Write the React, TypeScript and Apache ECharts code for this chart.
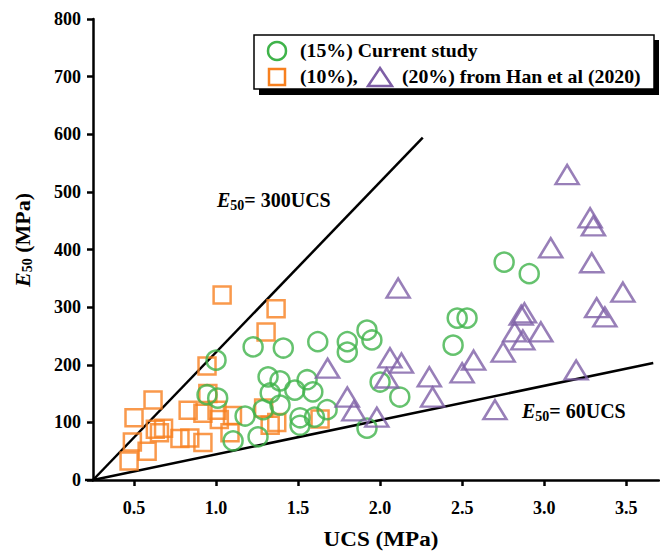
import React, { useEffect, useRef } from "react";
import * as echarts from "echarts";

// 10% cement content – Han et al (2020)
const squares10: number[][] = [
  [1.037, 321], [1.366, 297], [1.305, 257], [0.945, 198], [0.95, 150],
  [0.616, 139], [0.5, 108], [0.49, 66], [0.47, 33], [0.58, 50],
  [0.63, 88], [0.68, 90], [0.655, 82], [0.78, 72], [0.84, 73],
  [0.83, 121], [0.92, 116], [1.006, 121], [0.92, 65], [1.1, 112],
  [1.02, 105], [1.29, 125], [1.33, 95], [1.37, 100], [1.634, 106],
  [1.085, 82],
];

// 15% – current study
const circles15: number[][] = [
  [2.756, 378], [2.909, 358], [2.47, 281], [2.53, 281], [2.445, 234],
  [1.92, 260], [1.95, 243], [2.0, 170], [2.12, 144], [1.92, 90],
  [1.8, 240], [1.8, 222], [1.62, 240], [1.226, 231], [1.41, 229],
  [1.0, 208], [0.945, 148], [1.01, 142], [1.317, 179], [1.39, 172],
  [1.555, 174], [1.33, 151], [1.48, 156], [1.59, 153], [1.39, 130],
  [1.287, 122], [1.177, 111], [1.512, 108], [1.512, 95], [1.6, 109],
  [1.677, 122], [1.104, 68], [1.256, 75],
];

// 20% – Han et al (2020)
const triangles20: number[][] = [
  [3.14, 530], [3.28, 455], [3.3, 441], [3.04, 403], [3.29, 377],
  [3.48, 326], [3.32, 299], [3.37, 283], [2.86, 286], [2.88, 290],
  [2.82, 257], [2.98, 257], [2.87, 243], [2.75, 222], [2.57, 208],
  [2.5, 186], [3.195, 191], [2.7, 122], [2.11, 333], [2.06, 212],
  [2.13, 203], [2.04, 177], [2.3, 179], [2.32, 144], [1.8, 144],
  [1.84, 120], [1.98, 109], [1.68, 194],
];

// Reference lines (end points)
const line300: number[][] = [[0.25, 0], [2.26, 594]];
const line60: number[][] = [[0.25, 0], [3.665, 203]];

const xTicks = [0.5, 1.0, 1.5, 2.0, 2.5, 3.0, 3.5];

const GREEN = "#3fb34a";
const ORANGE = "#f7801f";
const PURPLE = "#7e5fa6";
const FONT = "'Liberation Serif', 'Times New Roman', serif";

export default function App() {
  const ref = useRef<HTMLDivElement>(null);
  useEffect(() => {
    const chart = echarts.init(ref.current!, null, { renderer: "svg" });
    const labelRich = {
      e: { fontFamily: FONT, fontSize: 20, fontWeight: "bold", fontStyle: "italic", color: "#000" },
      s: { fontFamily: FONT, fontSize: 14, fontWeight: "bold", color: "#000", padding: [11, 0, 0, 0] },
      n: { fontFamily: FONT, fontSize: 20, fontWeight: "bold", color: "#000" },
    };
    const legendFont = `bold 18px ${FONT}`;
    chart.setOption({
      animation: false,
      backgroundColor: "#fff",
      grid: { left: 93, right: 1, top: 19, bottom: 71, containLabel: false, outerBoundsMode: "none" },
      xAxis: {
        type: "value",
        min: 0.25,
        max: 3.7,
        axisLine: { show: true, onZero: false, lineStyle: { color: "#000", width: 2.5 } },
        axisTick: { show: true, inside: false, length: 6, customValues: xTicks, lineStyle: { color: "#000", width: 2.5 } },
        axisLabel: {
          customValues: xTicks,
          formatter: (v: number) => v.toFixed(1),
          fontFamily: FONT, fontWeight: "bold", fontSize: 18, color: "#000", margin: 19,
        },
        splitLine: { show: false },
      },
      yAxis: {
        type: "value",
        min: 0,
        max: 800,
        interval: 100,
        axisLine: { show: true, onZero: false, lineStyle: { color: "#000", width: 2.5 } },
        axisTick: { show: true, inside: false, length: 6, lineStyle: { color: "#000", width: 2.5 } },
        axisLabel: { fontFamily: FONT, fontWeight: "bold", fontSize: 18, color: "#000", margin: 12 },
        splitLine: { show: false },
      },
      series: [
        {
          type: "line", data: line300, symbol: "none", silent: true,
          lineStyle: { color: "#000", width: 2.5 }, z: 1,
        },
        {
          type: "line", data: line60, symbol: "none", silent: true,
          lineStyle: { color: "#000", width: 2.5 }, z: 1,
        },
        {
          type: "scatter", name: "10%", data: squares10, symbol: "rect", symbolSize: 17,
          itemStyle: { color: "transparent", borderColor: ORANGE, borderWidth: 2.5 }, z: 2,
        },
        {
          type: "scatter", name: "15%", data: circles15, symbol: "circle", symbolSize: 19,
          itemStyle: { color: "transparent", borderColor: GREEN, borderWidth: 2.5 }, z: 3,
        },
        {
          type: "scatter", name: "20%", data: triangles20, symbol: "triangle", symbolSize: [23, 19],
          itemStyle: { color: "transparent", borderColor: PURPLE, borderWidth: 2.5 }, z: 4,
        },
      ],
      graphic: [
        // small extension of the x axis to the left of the origin
        { type: "line", shape: { x1: 85, y1: 480, x2: 94, y2: 480 }, style: { stroke: "#000", lineWidth: 2.5 } },
        // x axis title
        {
          type: "text", x: 381, y: 539, scaleX: 1.1,
          style: {
            text: "UCS (MPa)", font: `bold 21px ${FONT}`, fill: "#000",
            align: "center", verticalAlign: "middle",
          },
        },
        // y axis title
        {
          type: "text", x: 22, y: 240, rotation: Math.PI / 2,
          style: {
            text: "{e|E}{s|50}{n| (MPa)}",
            align: "center", verticalAlign: "middle",
            rich: {
              e: { fontFamily: FONT, fontSize: 22, fontWeight: "bold", fontStyle: "italic", color: "#000" },
              s: { fontFamily: FONT, fontSize: 14, fontWeight: "bold", color: "#000", padding: [11, 0, 0, 0] },
              n: { fontFamily: FONT, fontSize: 22, fontWeight: "bold", color: "#000" },
            },
          },
        },
        // line labels
        {
          type: "text", x: 217, y: 200,
          style: { text: "{e|E}{s|50}{n|= 300UCS}", align: "left", verticalAlign: "middle", rich: labelRich },
        },
        {
          type: "text", x: 522, y: 411,
          style: { text: "{e|E}{s|50}{n|= 60UCS}", align: "left", verticalAlign: "middle", rich: labelRich },
        },
        // legend box
        { type: "rect", shape: { x: 259, y: 40, width: 400, height: 55 }, style: { fill: "#000" } },
        { type: "rect", shape: { x: 254, y: 35, width: 400, height: 54 }, style: { fill: "#fff", stroke: "#000", lineWidth: 1.5 } },
        { type: "circle", shape: { cx: 277, cy: 51, r: 9 }, style: { fill: "none", stroke: GREEN, lineWidth: 2.5 } },
        { type: "rect", shape: { x: 269, y: 69, width: 16, height: 16 }, style: { fill: "none", stroke: ORANGE, lineWidth: 2.5 } },
        { type: "polygon", shape: { points: [[380, 68], [392, 86], [368, 86]] }, style: { fill: "none", stroke: PURPLE, lineWidth: 2.5 } },
        {
          type: "text", x: 300, y: 51, scaleX: 1.1,
          style: { text: "(15%) Current study", font: legendFont, fill: "#000", align: "left", verticalAlign: "middle" },
        },
        {
          type: "text", x: 300, y: 77, scaleX: 1.1,
          style: { text: "(10%),", font: legendFont, fill: "#000", align: "left", verticalAlign: "middle" },
        },
        {
          type: "text", x: 402, y: 77, scaleX: 1.1,
          style: { text: "(20%) from Han et al (2020)", font: legendFont, fill: "#000", align: "left", verticalAlign: "middle" },
        },
      ],
    });
    return () => chart.dispose();
  }, []);
  return (
    <div
      ref={ref}
      style={{ position: "fixed", left: 0, top: 0, width: 660, height: 551, background: "#fff" }}
    />
  );
}
